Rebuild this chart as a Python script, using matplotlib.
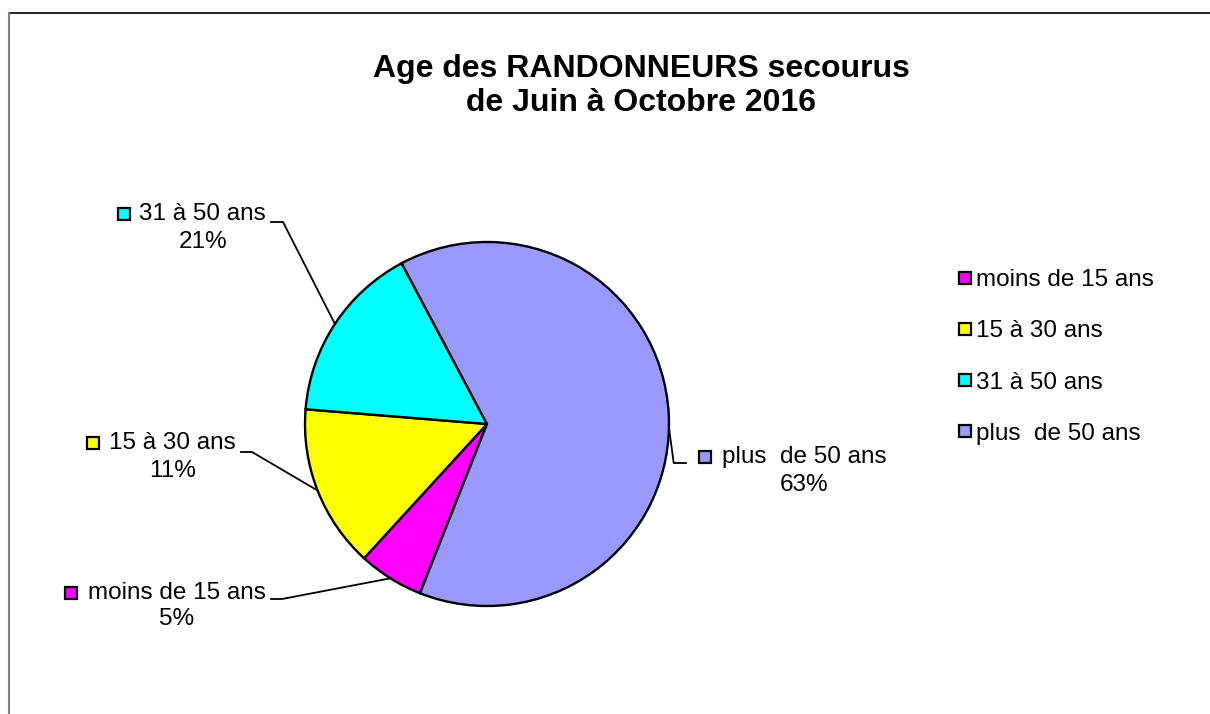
import matplotlib.pyplot as plt
from matplotlib.lines import Line2D
import numpy as np

plt.rcParams['font.family'] = ['Liberation Sans', 'DejaVu Sans']

# data
categories = ['moins de 15 ans', '15 à 30 ans', '31 à 50 ans', 'plus  de 50 ans']
counts = [4, 10, 11, 44]
pct_labels = ['5%', '11%', '21%', '63%']
colors = ['#FF00FF', '#FFFF00', '#00FFFF', '#9999FF']

W, H = 1210, 714
fig = plt.figure(figsize=(W / 100, H / 100), dpi=100)
ax = fig.add_axes([0, 0, 1, 1])

# frame of the chart area (only top and left visible)
fig.add_artist(Line2D([9 / W, 1], [1 - 13 / H, 1 - 13 / H], color='black', lw=1.2))
fig.add_artist(Line2D([9 / W, 9 / W], [0, 1 - 13 / H], color='#808080', lw=1.5))

cx, cy, r = 487, H - 424, 182
wedges, _ = ax.pie(counts, colors=colors, startangle=248.4, counterclock=False,
                   center=(cx, cy), radius=r, frame=True,
                   wedgeprops=dict(edgecolor='black', linewidth=1.7))
ax.set_xlim(0, W)
ax.set_ylim(0, H)
ax.set_aspect('equal')
ax.axis('off')

# data label layout, pixels:
# (marker x, name y, name anchor x, pct centre x, pct y, leader y, elbow x)
lab_pos = [
    (71, 593, 266, 177, 619, 599, 282),
    (93, 443, 236, 173, 471, 452, 252),
    (124, 214, 266, 203, 242, 222, 283),
    (705, 457, 722, 804, 485, 463, 686),
]
fs = 17.5
for i, w in enumerate(wedges):
    mx, ny, tx, px, py, ly, ex = lab_pos[i]
    ang = np.deg2rad((w.theta1 + w.theta2) / 2)
    edge_x = cx + r * np.cos(ang)
    edge_y = cy + r * np.sin(ang)
    ha = 'right' if i < 3 else 'left'
    ax.text(tx, H - ny, categories[i], ha=ha, va='center', fontsize=fs)
    ax.plot([mx], [H - ny], marker='s', ms=8.5, mfc=colors[i], mec='black', mew=1.6)
    ax.text(px, H - py, pct_labels[i], ha='center', va='center', fontsize=fs)
    if i < 3:
        ax.plot([tx + 5, ex, edge_x], [H - ly, H - ly, edge_y], color='black', lw=1.3)
    else:
        ax.plot([ex, edge_x + 5, edge_x], [H - ly, H - ly, edge_y - 12], color='black', lw=1.3)

fig.text(641 / W, 1 - 86 / H, 'Age des RANDONNEURS secourus\nde Juin à Octobre 2016',
         ha='center', va='center', fontsize=23, fontweight='bold', linespacing=1.16)

handles = [Line2D([], [], marker='s', ls='none', ms=8.5, mfc=c, mec='black', mew=1.6)
           for c in colors]
fig.legend(handles, categories, loc='upper left', bbox_to_anchor=(947 / W, 1 - 257 / H),
           frameon=False, fontsize=fs, handlelength=0.5, handletextpad=0.2,
           labelspacing=1.2, borderpad=0)

fig.savefig('out.png', dpi=100)
